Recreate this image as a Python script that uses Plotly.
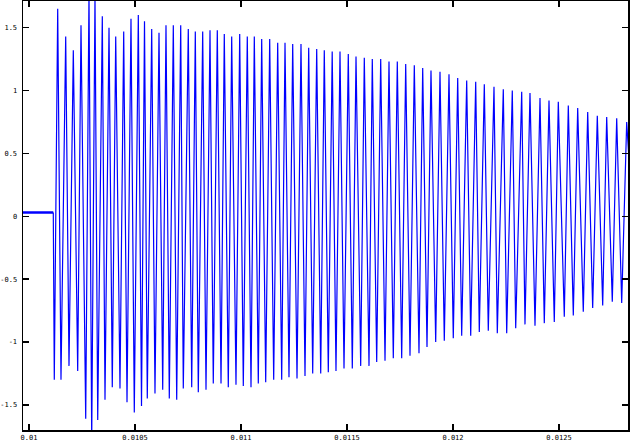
import plotly.graph_objects as go

# Signal peaks: time offset after 0.01 s (microseconds) and amplitude
flat_time_us = [-40.0, 114.6]
flat_value = [0.03, 0.03]

peak_time_us = [
    119.3, 135.4, 150.9, 173.1, 188.7, 209.0, 229.7, 245.3, 267.5, 283.0,
    295.8, 311.3, 324.1, 345.8, 358.5, 377.4, 392.9, 409.0, 429.2, 446.7,
    462.3, 481.1, 496.7, 515.6, 530.7, 544.8, 558.0, 578.8, 594.3, 613.2,
    630.7, 646.2, 661.8, 680.7, 696.7, 715.6, 727.8, 751.4, 767.5, 784.5,
    798.6, 819.3, 834.9, 853.8, 869.3, 888.2, 905.7, 921.2, 940.1, 956.1,
    976.4, 993.9, 1010.9, 1029.7, 1047.2, 1062.8, 1081.6, 1097.6, 1116.5, 1135.4,
    1154.2, 1173.1, 1192.0, 1207.6, 1226.4, 1243.9, 1264.2, 1283.0, 1301.9, 1319.3,
    1338.2, 1357.1, 1376.0, 1392.9, 1411.8, 1430.2, 1448.1, 1467.0, 1485.9, 1506.1,
    1525.0, 1542.5, 1564.6, 1581.6, 1603.8, 1619.3, 1640.1, 1659.0, 1679.3, 1698.1,
    1718.4, 1737.3, 1758.0, 1776.9, 1797.2, 1817.5, 1839.6, 1857.1, 1877.4, 1896.2,
    1918.4, 1938.7, 1959.0, 1981.1, 2001.4, 2022.2, 2041.0, 2064.6, 2083.5, 2107.1,
    2124.1, 2147.7, 2166.5, 2193.4, 2209.0, 2237.3, 2253.3, 2279.7, 2295.8, 2324.1,
    2339.6, 2363.2, 2386.8, 2410.4, 2430.7, 2452.8, 2477.8, 2496.7, 2525.0, 2543.9,
    2567.5, 2588.2, 2614.6, 2635.4, 2658.9, 2680.7, 2706.1, 2725.0, 2751.4, 2772.2,
    2795.8, 2819.3, 2830.2,
]
peak_value = [
    -1.30, 1.65, -1.30, 1.43, -1.19, 1.32, -1.23, 1.52, -1.61, 1.78,
    -1.78, 1.76, -1.62, 1.59, -1.46, 1.50, -1.36, 1.43, -1.37, 1.47,
    -1.48, 1.57, -1.56, 1.60, -1.51, 1.55, -1.45, 1.49, -1.41, 1.46,
    -1.38, 1.52, -1.45, 1.52, -1.46, 1.52, -1.37, 1.49, -1.36, 1.47,
    -1.40, 1.47, -1.38, 1.48, -1.33, 1.48, -1.33, 1.45, -1.36, 1.43,
    -1.34, 1.45, -1.35, 1.43, -1.36, 1.43, -1.33, 1.41, -1.32, 1.41,
    -1.30, 1.38, -1.30, 1.38, -1.28, 1.37, -1.29, 1.37, -1.27, 1.34,
    -1.25, 1.33, -1.25, 1.32, -1.24, 1.31, -1.23, 1.31, -1.21, 1.29,
    -1.21, 1.27, -1.19, 1.26, -1.19, 1.25, -1.16, 1.25, -1.15, 1.23,
    -1.13, 1.23, -1.13, 1.21, -1.11, 1.20, -1.09, 1.18, -1.04, 1.16,
    -1.00, 1.15, -0.99, 1.13, -0.97, 1.10, -0.95, 1.08, -0.95, 1.07,
    -0.92, 1.05, -0.91, 1.03, -0.93, 1.01, -0.93, 1.00, -0.89, 0.99,
    -0.86, 0.98, -0.87, 0.94, -0.85, 0.92, -0.84, 0.91, -0.80, 0.88,
    -0.79, 0.86, -0.76, 0.83, -0.73, 0.80, -0.71, 0.79, -0.68, 0.78,
    -0.69, 0.75, 0.45,
]

x_tick_vals = [0.01, 0.0105, 0.011, 0.0115, 0.012, 0.0125]
x_tick_text = ["0.01", "0.0105", "0.011", "0.0115", "0.012", "0.0125"]
y_tick_vals = [-1.5, -1, -0.5, 0, 0.5, 1, 1.5]
y_tick_text = ["-1.5", "-1", "-0.5", "0", "0.5", "1", "1.5"]

flat_x = [0.01 + t * 1e-6 for t in flat_time_us]
t_all = flat_time_us[-1:] + peak_time_us
v_all = flat_value[-1:] + peak_value
x_all = [0.01 + t * 1e-6 for t in t_all]

fig = go.Figure()
fig.add_trace(go.Scatter(
    x=flat_x, y=flat_value, mode="lines",
    line=dict(color="#0000ff", width=2.5),
    showlegend=False, hoverinfo="skip",
))
fig.add_trace(go.Scatter(
    x=x_all, y=v_all, mode="lines",
    line=dict(color="#0000ff", width=1.2),
    showlegend=False, hoverinfo="skip",
))

axis_font = dict(family="DejaVu Sans Mono", size=7, color="black")
fig.update_layout(
    width=630, height=442,
    margin=dict(l=23, r=2, t=1, b=12, pad=0),
    paper_bgcolor="white", plot_bgcolor="white",
    showlegend=False,
)
fig.update_xaxes(
    range=[0.0099717, 0.0128255],
    tickmode="array", tickvals=x_tick_vals, ticktext=x_tick_text,
    ticks="inside", ticklen=6, tickwidth=1.5, tickcolor="black",
    showline=True, linecolor="black", linewidth=1.5, mirror="ticks",
    showgrid=False, zeroline=False, tickfont=axis_font, automargin=False,
    ticklabelstandoff=0,
)
fig.update_yaxes(
    range=[-1.70, 1.712],
    tickmode="array", tickvals=y_tick_vals, ticktext=y_tick_text,
    ticks="inside", ticklen=6, tickwidth=1.5, tickcolor="black",
    showline=True, linecolor="black", linewidth=1.5, mirror="ticks",
    showgrid=False, zeroline=False, tickfont=axis_font, automargin=False,
    ticklabelstandoff=3,
)

fig.write_html(
    "out.html",
    config={"displayModeBar": False, "staticPlot": True},
    post_script="document.body.style.margin='0px';document.body.style.overflow='hidden';",
)
